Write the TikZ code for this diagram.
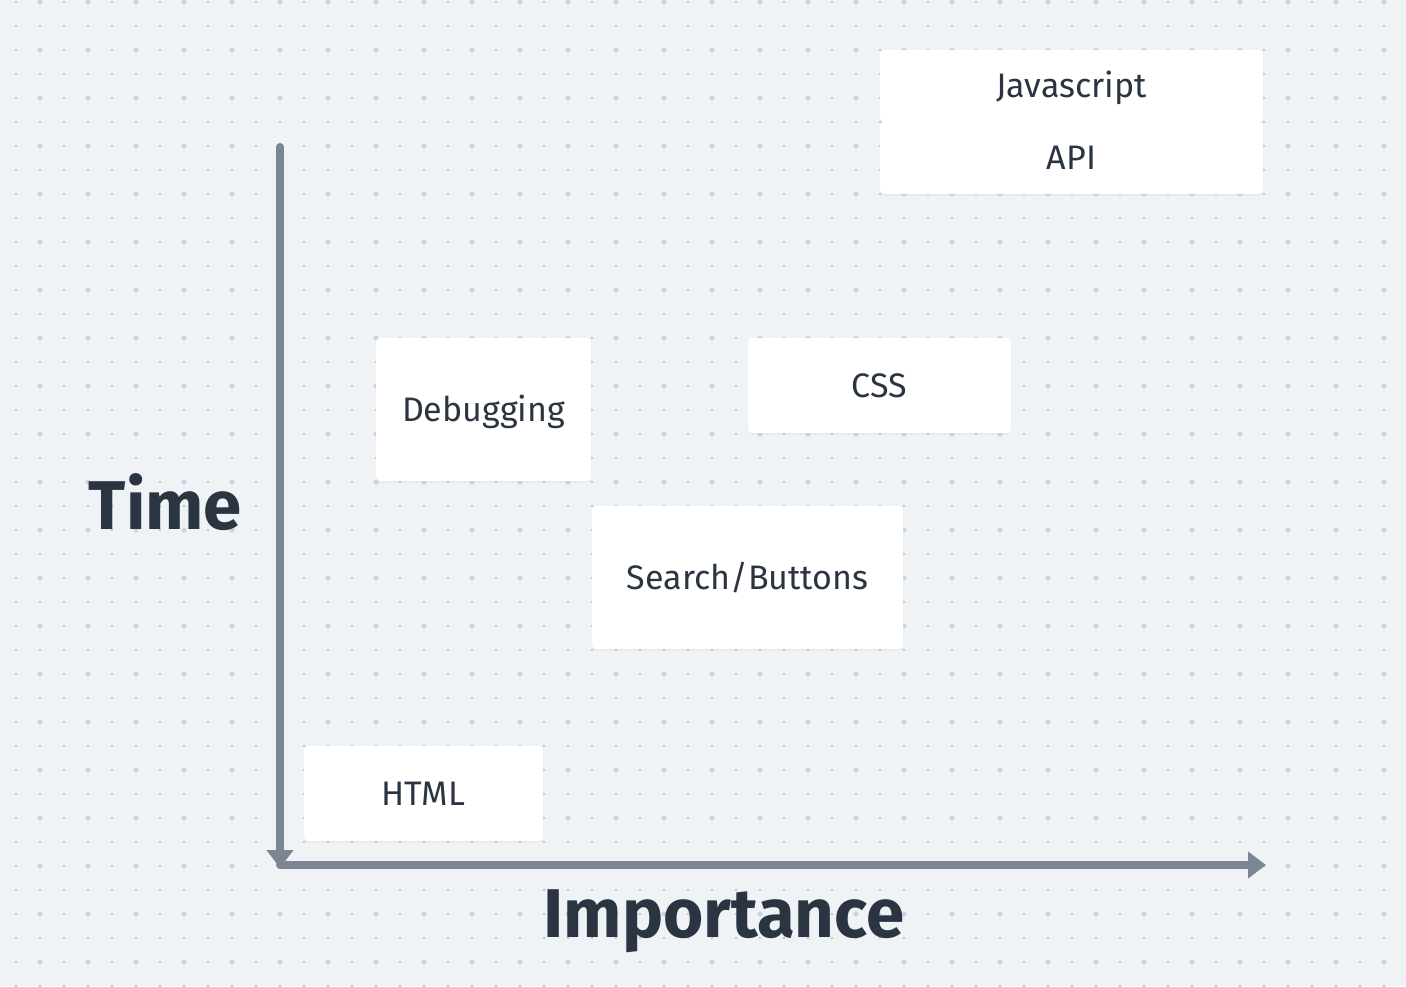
\documentclass[tikz,border=0pt]{standalone}
\usepackage{fontspec}
\setmainfont{Fira Sans}
\usepackage{xcolor}
\usetikzlibrary{positioning,arrows.meta,shadows}

\definecolor{bgc}{HTML}{EFF3F6}
\definecolor{dotc}{HTML}{BEC3C9}
\definecolor{dotb}{HTML}{CCD4DF}
\definecolor{axisc}{HTML}{7B8593}
\definecolor{inkc}{HTML}{2B3441}

\tikzset{
  card/.style={rectangle, fill=white, rounded corners=2pt, inner sep=0pt,
    text=inkc, font=\fontsize{17}{20}\selectfont,
    text height=11.7pt, text depth=0pt,
    drop shadow={shadow xshift=0pt, shadow yshift=-0.8pt, opacity=0.09}},
  axisline/.style={draw=axisc, line width=4pt, line cap=round,
    -{Triangle[length=9pt, width=13pt]}},
  bigtitle/.style={text=inkc, inner sep=0pt, text height=24pt, text depth=0pt,
    font=\bfseries\fontsize{34.5}{40}\selectfont}
}

\begin{document}
\begin{tikzpicture}[x=0.5pt, y=-0.5pt, node distance=36pt, on grid]

    % background and dot grid
    \fill[bgc] (0,0) rectangle (1406,986);
    \useasboundingbox (0,0) rectangle (1406,986);
    \foreach \x in {16,40,...,1406}
        \foreach \y in {2,26,...,986}
            \fill[dotc] (\x,\y) circle (0.7pt);
    \foreach \x in {40,88,...,1406}
        \foreach \y in {2,50,...,986}
            \fill[dotb] (\x,\y) circle (1.3pt);

    % axes
    \coordinate (ytop) at (280,147);
    \coordinate (orig) at (280,868);
    \coordinate (xend) at (1266,865);
    \draw[axisline] (ytop) -- (orig);
    \draw[axisline] (orig |- xend) -- (xend);

    \node[bigtitle] (time) at (165.5,505) {Time};
    \node[bigtitle] (imp) at (724,913) {Importance};

    % topics
    \node[card, minimum width=191.5pt, minimum height=36pt] (js) at (1071.5,86) {Javascript};
    \node[card, minimum width=191.5pt, minimum height=36pt] (api) [below=of js] {API};
    \node[card, minimum width=107.5pt, minimum height=71.5pt] (dbg) at (483.5,409.5) {Debugging};
    \node[card, minimum width=131.5pt, minimum height=47.5pt] (css) at (879.5,385.5) {CSS};
    \node[card, minimum width=155.5pt, minimum height=71.5pt] (srch) at (747.5,577.5) {Search/Buttons};
    \node[card, minimum width=119.5pt, minimum height=47.5pt] (html) at (423.5,793.5) {HTML};

\end{tikzpicture}
\end{document}
